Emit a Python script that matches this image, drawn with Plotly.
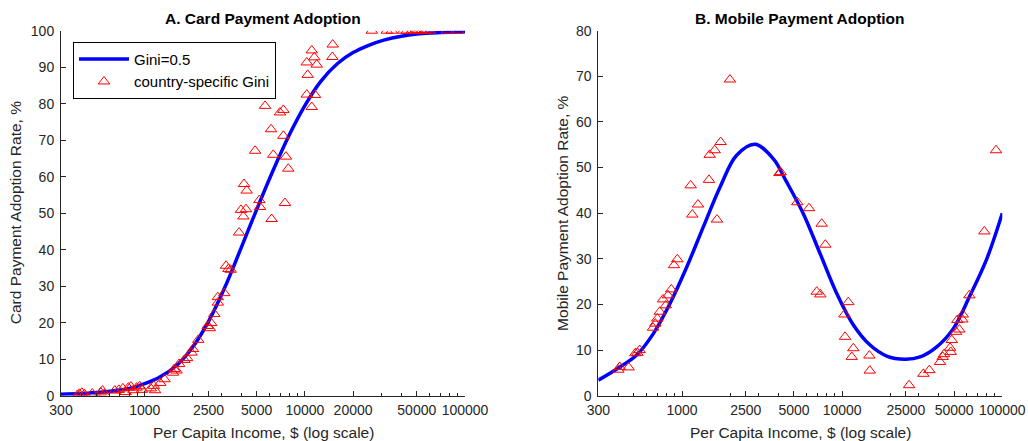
import plotly.graph_objects as go

# ---- Panel A: card payment adoption ----
card_curve_income = [300, 400, 500, 630, 800, 1000, 1250, 1600, 2000, 2500, 3150, 4000,
                     5000, 6300, 8000, 10000, 12500, 16000, 20000, 25000, 31500, 40000,
                     50000, 63000, 80000, 100000]
card_curve_rate = [0.4, 0.6, 0.9, 1.3, 2.0, 3.3, 5.2, 8.5, 13.4, 20.3, 29.5, 40.5,
                   51.0, 61.5, 71.5, 79.5, 86.0, 91.0, 94.0, 96.0, 97.5, 98.5,
                   99.1, 99.4, 99.6, 99.7]

card_income = [380, 390, 405, 420, 470, 530, 545, 560, 650, 690, 730, 760, 790, 820,
               850, 890, 930, 960, 1090, 1140, 1160, 1250, 1330, 1500, 1530, 1580,
               1640, 1770, 1840, 1960, 2000, 2160, 2470, 2550, 2600, 2720, 2860, 2860,
               3140, 3220, 3330, 3440, 3880, 3990, 4130, 4290, 4170, 4330, 4890, 5200,
               5250, 5640, 6150, 6200, 6350, 6990, 7340, 7340, 7510, 7620, 7880,
               10270, 10270, 10420, 11040, 11040, 11460, 11570, 11860, 14850, 14920,
               26180, 32470, 34860, 41180, 43250, 46470, 48750, 49920, 51140, 53660,
               56300, 60500, 76900, 90800]
card_rate = [0.2, 0.5, 0.8, 0.4, 0.6, 0.9, 1.4, 0.5, 1.4, 1.6, 2.0, 1.0, 2.2, 2.5,
             1.5, 2.2, 2.6, 1.6, 2.0, 2.7, 1.5, 3.5, 4.5, 6.3, 7.3, 6.9,
             8.7, 9.8, 10.3, 11.8, 12.8, 15.3, 19.1, 18.5, 19.9, 22.4, 25.5, 27.0,
             28.1, 35.6, 34.7, 34.5, 44.7, 50.9, 49.1, 51.1, 58.0, 56.2, 67.1, 53.6,
             51.7, 79.4, 73.0, 48.4, 66.0, 77.6, 78.3, 71.2, 52.8, 65.5, 62.2,
             82.5, 91.3, 87.9, 79.1, 94.6, 92.7, 82.4, 90.7, 92.8, 96.2,
             100, 100, 100, 100, 100, 100, 100, 100, 100, 100,
             100, 100, 100, 100]

# ---- Panel B: mobile payment adoption ----
mobile_curve_income = [300, 410, 521, 662, 841, 1070, 1358, 1726, 2193, 2857, 3718,
                       4505, 5719, 7270, 9250, 11750, 14930, 18970, 24700, 30700,
                       38950, 49450, 62950, 80000, 100000]
mobile_curve_rate = [3.4, 6.3, 8.9, 13.6, 20.2, 28.2, 37.0, 45.7, 52.7, 55.1, 51.9,
                     46.8, 39.9, 31.2, 22.4, 15.5, 11.1, 8.7, 8.0, 8.5,
                     10.7, 14.7, 22.0, 30.0, 40.0]

mobile_income = [400, 408, 464, 511, 526, 544, 659, 681, 701, 726, 761, 791, 817, 857,
                 891, 934, 1132, 1159, 1258, 1473, 1488, 1599, 1652, 1743, 1991,
                 4053, 4128, 5248, 6209, 6934, 7305, 7450, 7849, 10319, 10420, 10923,
                 11480, 11740, 14790, 14870, 26180, 32150, 35030, 40830, 42440, 43290,
                 47190, 47640, 48340, 51430, 52400, 53970, 56330, 56630, 62230, 77250,
                 91410]
mobile_rate = [5.7, 6.3, 6.2, 9.3, 9.4, 10.0, 14.9, 15.8, 16.9, 18.4, 21.1, 19.8, 22.0,
               23.3, 28.6, 29.9, 46.1, 39.7, 41.9, 47.3, 52.8, 53.8, 38.6, 55.6, 69.3,
               48.8, 49.0, 42.4, 41.1, 22.8, 22.2, 37.7, 33.1, 17.8, 12.9, 20.5,
               8.5, 10.4, 8.8, 5.5, 2.3, 4.8, 5.6, 7.4, 8.5, 9.1,
               10.5, 9.6, 12.2, 14.0, 16.6, 14.5, 16.7, 17.8, 22.0, 36.0,
               53.8]

ticks_a = [300, 1000, 2500, 5000, 10000, 20000, 50000, 100000]
ticks_b = [300, 1000, 2500, 5000, 10000, 25000, 50000, 100000]

BLUE = "rgb(0,0,255)"
RED = "rgb(255,0,0)"
AXC = "#262626"
FONT = "Liberation Sans, Arial, Helvetica, sans-serif"

fig = go.Figure()

fig.add_trace(go.Scatter(x=card_curve_income, y=card_curve_rate, mode="lines",
                         line=dict(color=BLUE, width=3.5, shape="spline"),
                         name="Gini=0.5", xaxis="x", yaxis="y"))
fig.add_trace(go.Scatter(x=card_income, y=card_rate, mode="markers",
                         marker=dict(symbol="triangle-up-open", size=10,
                                     color=RED, line=dict(width=1, color=RED)),
                         name="country-specific Gini", xaxis="x", yaxis="y"))
fig.add_trace(go.Scatter(x=mobile_curve_income, y=mobile_curve_rate, mode="lines",
                         line=dict(color=BLUE, width=3.5, shape="spline"),
                         showlegend=False, xaxis="x2", yaxis="y2"))
fig.add_trace(go.Scatter(x=mobile_income, y=mobile_rate, mode="markers",
                         marker=dict(symbol="triangle-up-open", size=10,
                                     color=RED, line=dict(width=1, color=RED)),
                         showlegend=False, xaxis="x2", yaxis="y2"))

W, H = 1028, 441
Y_TOP, Y_BOT = 30.7, 395.7
XA = (61, 465)
XB = (598.3, 1002.3)
ydom = [1 - Y_BOT / H, 1 - Y_TOP / H]
minor_vals = [m * 10 ** e for e in (2, 3, 4) for m in range(2, 10) if 300 < m * 10 ** e < 100000]


def xaxis(px, ticks, anchor):
    return dict(domain=[px[0] / W, px[1] / W], type="log", range=[2.4771, 5.0],
                anchor=anchor, automargin=False,
                tickvals=ticks, ticktext=[str(t) for t in ticks],
                ticks="inside", ticklen=5, tickcolor=AXC, tickwidth=1,
                minor=dict(tickvals=minor_vals, ticks="inside", ticklen=3,
                           tickcolor=AXC, tickwidth=1),
                showline=True, linecolor=AXC, linewidth=1, showgrid=False,
                zeroline=False, ticklabelstandoff=1,
                tickfont=dict(size=14, color=AXC, family=FONT))


def yaxis(rng, anchor):
    return dict(domain=ydom, range=rng, dtick=10, anchor=anchor, automargin=False,
                ticks="inside", ticklen=5, tickcolor=AXC, tickwidth=1,
                showline=True, linecolor=AXC, linewidth=1, showgrid=False,
                zeroline=False, ticklabelstandoff=3,
                tickfont=dict(size=14, color=AXC, family=FONT))


def label(text, x, y, angle=0, size=15.5, color=AXC):
    return dict(text=text, x=x / W, y=1 - y / H, xref="paper", yref="paper",
                showarrow=False, textangle=angle, xanchor="center", yanchor="middle",
                font=dict(size=size, color=color, family=FONT))


y_mid = (Y_TOP + Y_BOT) / 2
fig.update_layout(
    width=W, height=H,
    margin=dict(l=0, r=0, t=0, b=0, autoexpand=False),
    paper_bgcolor="white", plot_bgcolor="white",
    font=dict(family=FONT, color=AXC),
    xaxis=xaxis(XA, ticks_a, "y"),
    yaxis=yaxis([0, 100], "x"),
    xaxis2=xaxis(XB, ticks_b, "y2"),
    yaxis2=yaxis([0, 80], "x2"),
    legend=dict(x=73 / W, y=1 - 41.7 / H, xanchor="left", yanchor="top",
                bordercolor="black", borderwidth=1, bgcolor="white",
                font=dict(size=15, color="black", family=FONT),
                tracegroupgap=0, itemwidth=50),
    annotations=[
        label("<b>A. Card Payment Adoption</b>", sum(XA) / 2, 19, size=15.5, color="black"),
        label("<b>B. Mobile Payment Adoption</b>", sum(XB) / 2, 19, size=15.5, color="black"),
        label("Per Capita Income, $ (log scale)", sum(XA) / 2, 432),
        label("Per Capita Income, $ (log scale)", sum(XB) / 2, 432),
        label("Card Payment Adoption Rate, %", 15, y_mid, angle=-90),
        label("Mobile Payment Adoption Rate, %", 561.7, y_mid, angle=-90),
    ],
)

fig.write_html("out.html")
